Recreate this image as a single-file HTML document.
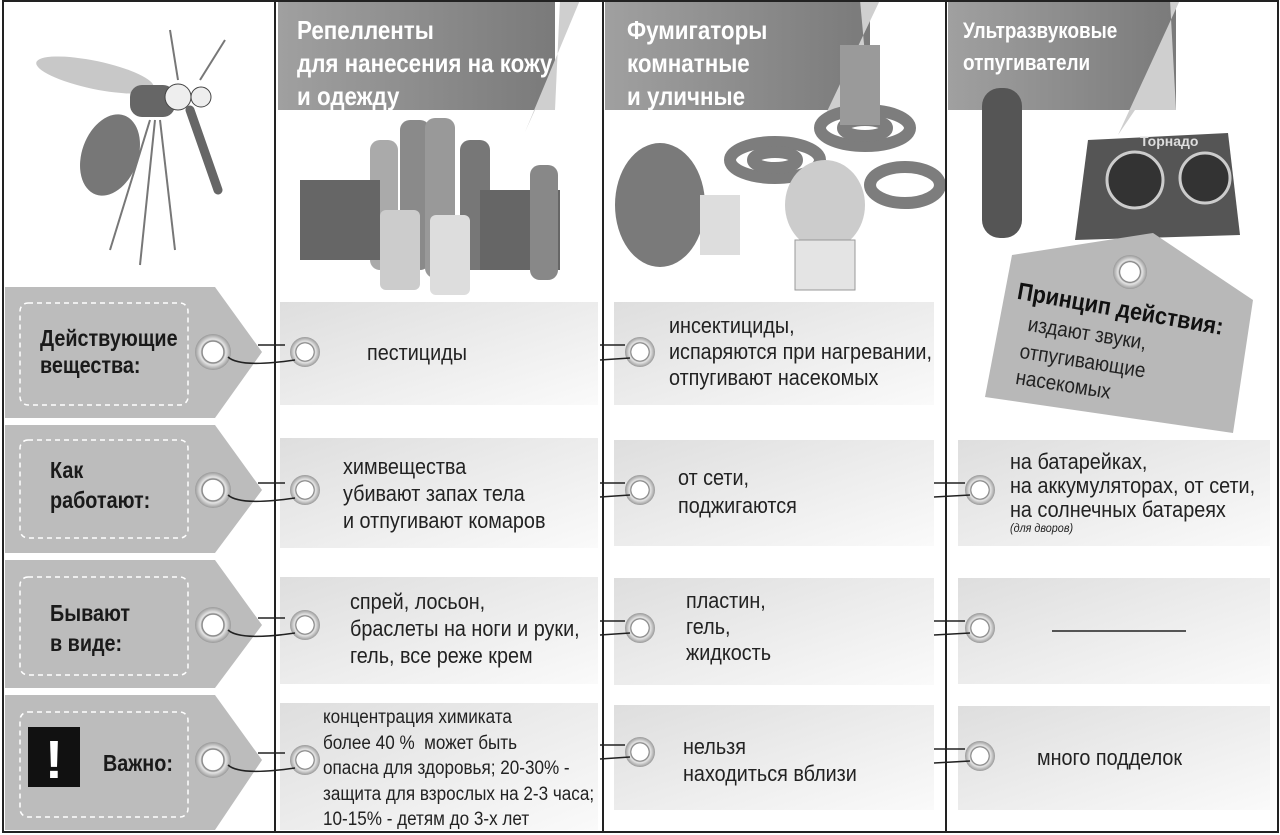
<!DOCTYPE html>
<html><head><meta charset="utf-8">
<style>
body{margin:0;width:1280px;height:835px;overflow:hidden;background:#fff;position:relative;font-family:"Liberation Sans",sans-serif}
svg{position:absolute;left:0;top:0}
.t{position:absolute;white-space:nowrap;transform:scaleX(.9);transform-origin:0 0;color:#222;font-size:22px;line-height:27px}
.h{color:#fff;font-weight:bold;font-size:26px;line-height:33px;transform:scaleX(.86)}
.b{font-weight:bold;font-size:23px;color:#1a1a1a;transform:scaleX(.86)}
</style></head><body>
<svg width="1280" height="835" viewBox="0 0 1280 835">
<defs>
<linearGradient id="cg" x1="0" y1="0" x2="1" y2="1"><stop offset="0" stop-color="#dedede"/><stop offset="1" stop-color="#fafafa"/></linearGradient>
<linearGradient id="hg" x1="0" y1="0" x2="1" y2="0"><stop offset="0" stop-color="#a0a0a0"/><stop offset="1" stop-color="#7a7a7a"/></linearGradient>
<radialGradient id="ring"><stop offset=".55" stop-color="#fff"/><stop offset=".6" stop-color="#777"/><stop offset=".7" stop-color="#e6e6e6"/><stop offset="1" stop-color="#999"/></radialGradient>
</defs>
<rect x="278" y="0" width="277" height="110" fill="url(#hg)"/>
<polygon points="560,0 580,0 525,132 535,110 555,110" fill="#cfcfcf"/>
<rect x="605" y="0" width="265" height="110" fill="url(#hg)"/>
<polygon points="860,0 880,0 822,122 835,110 870,110" fill="#cfcfcf"/>
<rect x="948" y="0" width="228" height="110" fill="url(#hg)"/>
<polygon points="1170,0 1180,0 1118,135 1135,110 1176,110" fill="#cfcfcf"/>
<g fill="#8a8a8a">
<rect x="400" y="120" width="30" height="150" rx="10"/><rect x="425" y="118" width="30" height="160" rx="10" fill="#999"/>
<rect x="370" y="140" width="28" height="130" rx="10" fill="#aaa"/><rect x="460" y="140" width="30" height="130" rx="10" fill="#777"/>
<rect x="300" y="180" width="80" height="80" fill="#666"/><rect x="480" y="190" width="80" height="80" fill="#666"/>
<rect x="530" y="165" width="28" height="115" rx="10" fill="#888"/><rect x="380" y="210" width="40" height="80" rx="6" fill="#ccc"/>
<rect x="430" y="215" width="40" height="80" rx="6" fill="#ddd"/>
</g>
<g fill="none" stroke="#7d7d7d" stroke-width="12">
<ellipse cx="865" cy="128" rx="45" ry="18"/><ellipse cx="865" cy="128" rx="22" ry="8"/>
<ellipse cx="775" cy="160" rx="45" ry="18"/><ellipse cx="775" cy="160" rx="22" ry="8"/>
<ellipse cx="905" cy="185" rx="35" ry="18"/>
</g>
<rect x="840" y="45" width="40" height="80" fill="#9a9a9a"/>
<ellipse cx="660" cy="205" rx="45" ry="62" fill="#7a7a7a"/>
<rect x="700" y="195" width="40" height="60" fill="#ddd"/>
<ellipse cx="825" cy="205" rx="40" ry="45" fill="#ccc"/>
<rect x="795" y="240" width="60" height="50" fill="#e4e4e4" stroke="#999"/>
<rect x="982" y="88" width="40" height="150" rx="18" fill="#555"/>
<polygon points="1088,140 1228,133 1240,235 1075,240" fill="#555"/>
<circle cx="1135" cy="180" r="28" fill="#333" stroke="#ccc" stroke-width="3"/><circle cx="1205" cy="178" r="25" fill="#333" stroke="#ccc" stroke-width="3"/>
<text x="1140" y="146" fill="#ddd" font-size="14" font-weight="bold" font-family="Liberation Sans">Торнадо</text>
<ellipse cx="95" cy="75" rx="60" ry="14" fill="#c8c8c8" transform="rotate(12 95 75)"/>
<ellipse cx="110" cy="155" rx="28" ry="42" fill="#777" transform="rotate(20 110 155)"/>
<rect x="130" y="85" width="45" height="32" rx="12" fill="#666"/>
<circle cx="178" cy="97" r="13" fill="#eee" stroke="#444"/><circle cx="201" cy="97" r="10" fill="#eee" stroke="#444"/>
<path d="M190 110 L218 190" stroke="#666" stroke-width="9" stroke-linecap="round"/>
<g stroke="#777" stroke-width="2" fill="none"><path d="M150 120 L110 250"/><path d="M155 120 L140 265"/><path d="M160 120 L175 250"/><path d="M170 30 L178 80"/><path d="M225 40 L200 80"/></g>
<g stroke="#222" stroke-width="2" fill="none">
<rect x="3" y="1" width="1275" height="831"/>
<line x1="275" y1="0" x2="275" y2="832"/><line x1="603" y1="0" x2="603" y2="832"/><line x1="946" y1="0" x2="946" y2="832"/>
</g>
<g fill="#bcbcbc">
<polygon points="5,287 215,287 262,352 215,418 5,418"/>
<polygon points="5,425 215,425 262,490 215,553 5,553"/>
<polygon points="5,560 215,560 262,625 215,688 5,688"/>
<polygon points="5,695 215,695 262,760 215,830 5,830"/>
</g>
<g fill="none" stroke="#fff" stroke-width="1.5" stroke-dasharray="5,4">
<rect x="20" y="303" width="168" height="102" rx="8"/><rect x="20" y="440" width="168" height="98" rx="8"/>
<rect x="20" y="577" width="168" height="98" rx="8"/><rect x="20" y="712" width="168" height="105" rx="8"/>
</g>
<rect x="28" y="727" width="52" height="60" fill="#111"/>
<text x="54" y="778" fill="#fff" font-size="54" font-weight="bold" text-anchor="middle" font-family="Liberation Sans">!</text>
<g fill="url(#cg)">
<rect x="280" y="302" width="318" height="103"/><rect x="280" y="438" width="318" height="110"/>
<rect x="280" y="577" width="318" height="107"/><rect x="280" y="703" width="318" height="127"/>
<rect x="614" y="302" width="320" height="103"/><rect x="614" y="440" width="320" height="106"/>
<rect x="614" y="578" width="320" height="107"/><rect x="614" y="705" width="320" height="105"/>
<rect x="958" y="440" width="312" height="106"/><rect x="958" y="578" width="312" height="106"/>
<rect x="958" y="706" width="312" height="104"/>
</g>
<polygon points="1012,255 1153,233 1253,300 1233,433 985,397" fill="#b8b8b8"/>
<circle cx="1130" cy="272" r="17" fill="url(#ring)"/>
<g fill="url(#ring)">
<circle cx="213" cy="352" r="18"/><circle cx="213" cy="490" r="18"/><circle cx="213" cy="625" r="18"/><circle cx="213" cy="760" r="18"/>
<circle cx="305" cy="352" r="15"/><circle cx="305" cy="490" r="15"/><circle cx="305" cy="625" r="15"/><circle cx="305" cy="760" r="15"/>
<circle cx="640" cy="352" r="15"/><circle cx="640" cy="490" r="15"/><circle cx="640" cy="628" r="15"/><circle cx="640" cy="752" r="15"/>
<circle cx="980" cy="490" r="15"/><circle cx="980" cy="628" r="15"/><circle cx="980" cy="756" r="15"/>
</g>
<g fill="none" stroke="#222" stroke-width="1.6">
<path d="M228 357 Q240 368 295 360"/><path d="M258 345 L285 345"/>
<path d="M228 495 Q240 506 295 498"/><path d="M258 483 L285 483"/>
<path d="M228 630 Q240 641 295 633"/><path d="M258 618 L285 618"/>
<path d="M228 765 Q240 776 295 768"/><path d="M258 753 L285 753"/>
<path d="M600 345 L625 345"/><path d="M600 360 L630 358"/>
<path d="M600 483 L625 483"/><path d="M600 497 L630 495"/>
<path d="M600 621 L625 621"/><path d="M600 635 L630 633"/>
<path d="M600 745 L625 745"/><path d="M600 759 L630 757"/>
<path d="M934 483 L965 483"/><path d="M934 497 L970 495"/>
<path d="M934 621 L965 621"/><path d="M934 635 L970 633"/>
<path d="M934 749 L965 749"/><path d="M934 763 L970 761"/>
</g>
<line x1="1052" y1="631" x2="1186" y2="631" stroke="#222" stroke-width="1.5"/>
</svg>

<div class="t h" style="left:297px;top:14px">Репелленты<br>для нанесения на кожу<br>и одежду</div>
<div class="t h" style="left:627px;top:14px">Фумигаторы<br>комнатные<br>и уличные</div>
<div class="t h" style="left:963px;top:15px;font-size:22px;line-height:32px">Ультразвуковые<br>отпугиватели</div>

<div class="t b" style="left:40px;top:325px">Действующие<br>вещества:</div>
<div class="t b" style="left:50px;top:455px;line-height:30px">Как<br>работают:</div>
<div class="t b" style="left:50px;top:598px;line-height:30px">Бывают<br>в виде:</div>
<div class="t b" style="left:103px;top:750px">Важно:</div>

<div class="t" style="left:367px;top:339px">пестициды</div>
<div class="t" style="left:343px;top:453px">химвещества<br>убивают запах тела<br>и отпугивают комаров</div>
<div class="t" style="left:350px;top:588px">спрей, лосьон,<br>браслеты на ноги и руки,<br>гель, все реже крем</div>
<div class="t" style="left:323px;top:705px;font-size:19px;line-height:25.5px">концентрация химиката<br>более 40 %&nbsp; может быть<br>опасна для здоровья; 20-30% -<br>защита для взрослых на 2-3 часа;<br>10-15% - детям до 3-х лет</div>

<div class="t" style="left:669px;top:313px;line-height:26px">инсектициды,<br>испаряются при нагревании,<br>отпугивают насекомых</div>
<div class="t" style="left:678px;top:464px;line-height:28px">от сети,<br>поджигаются</div>
<div class="t" style="left:686px;top:588px;line-height:26px">пластин,<br>гель,<br>жидкость</div>
<div class="t" style="left:683px;top:733px">нельзя<br>находиться вблизи</div>

<div class="t" style="left:1010px;top:450px;line-height:24px">на батарейках,<br>на аккумуляторах, от сети,<br>на солнечных батареях</div>
<div class="t" style="left:1010px;top:521px;font-size:12px;font-style:italic;line-height:14px">(для дворов)</div>
<div class="t" style="left:1037px;top:744px">много подделок</div>

<div class="t" style="left:1020px;top:278px;transform:rotate(10deg) scaleX(.9);font-size:24px;font-weight:bold;color:#111">Принцип действия:</div>
<div class="t" style="left:1030px;top:312px;transform:rotate(9deg) scaleX(.9);font-size:21px;line-height:26px">издают звуки,</div>
<div class="t" style="left:1022px;top:338px;transform:rotate(9deg) scaleX(.9);font-size:21px">отпугивающие</div>
<div class="t" style="left:1018px;top:364px;transform:rotate(9deg) scaleX(.9);font-size:21px">насекомых</div>
</body></html>
